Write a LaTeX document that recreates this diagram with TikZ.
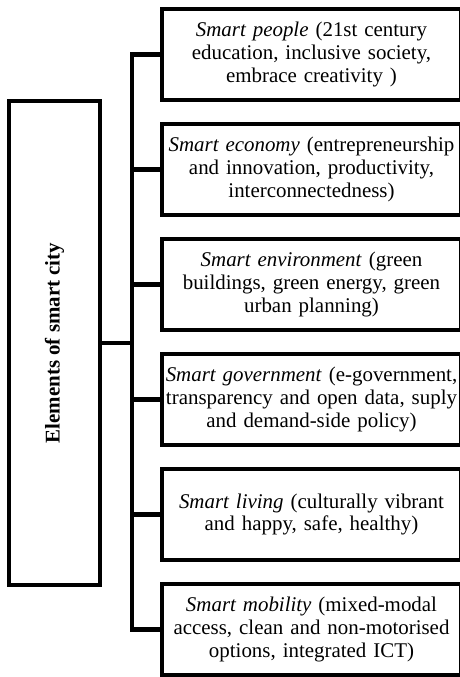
\documentclass[tikz,border=0pt]{standalone}
\usepackage{fontspec}
\setmainfont{Liberation Serif}
\usepackage{graphicx}
\usetikzlibrary{positioning}
\tikzset{
  item/.style = {rectangle, draw, line width=4.5bp, minimum width=299bp,
    minimum height=91bp, text width=295bp, align=center, inner sep=0pt,
    font=\fontsize{21}{23}\selectfont},
  title/.style = {rectangle, draw, line width=4.5bp, minimum width=91bp,
    minimum height=484bp, inner sep=0pt, font=\fontsize{21}{23}\selectfont\bfseries},
  link/.style = {line width=4.5bp}
}
\begin{document}
\begin{tikzpicture}[x=1bp, y=1bp, node distance=19.5bp]
\useasboundingbox (0,0) rectangle (460,-677);

\node[title] (elements) at (54.5,-343) {\rotatebox{90}{Elements of smart city}};

\node[item] (people) at (311.5,-54.5)
  {\textit{Smart people} (21st century\\ education, inclusive society,\\ embrace creativity )};
\node[item, below=of people] (economy)
  {\textit{Smart economy} (entrepreneurship\\ and innovation, productivity,\\ interconnectedness)};
\node[item, below=of economy] (environment)
  {\textit{Smart environment} (green\\ buildings, green energy, green\\ urban planning)};
\node[item, below=of environment] (government)
  {\textit{Smart government} (e-government,\\ transparency and open data, suply\\ and demand-side policy)};
\node[item, below=of government] (living)
  {\textit{Smart living} (culturally vibrant\\ and happy, safe, healthy)};
\node[item, below=of living] (mobility)
  {\textit{Smart mobility} (mixed-modal\\ access, clean and non-motorised\\ options, integrated ICT)};

\coordinate (trunk) at (132,0);
\draw[link] (people.west) -| (mobility.west -| trunk) -- (mobility.west);
\foreach \b in {economy,environment,government,living}
  \draw[link] (\b.west) -- (\b.west -| trunk);
\draw[link] (elements.east) -- (elements.east -| trunk);

\end{tikzpicture}
\end{document}
